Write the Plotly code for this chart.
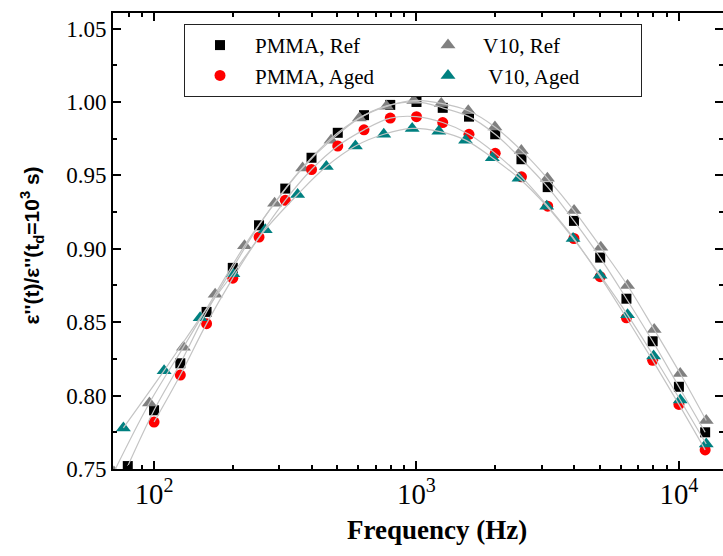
import plotly.graph_objects as go

# ---- data ----
pmma_ref_f = [79.4, 100, 125.9, 158.5, 199.5, 251.2, 316.2, 398.1, 501.2, 631.0, 794.3, 1000,
              1258.9, 1584.9, 1995.3, 2511.9, 3162.3, 3981.1, 5011.9, 6309.6, 7943.3, 10000, 12589.3]
pmma_ref_y = [0.752, 0.790, 0.822, 0.857, 0.887, 0.916, 0.941, 0.962, 0.979, 0.991, 0.998, 1.000,
              0.996, 0.990, 0.978, 0.961, 0.942, 0.919, 0.894, 0.866, 0.837, 0.806, 0.775]

pmma_aged_f = [100, 125.9, 158.5, 199.5, 251.2, 316.2, 398.1, 501.2, 631.0, 794.3, 1000,
               1258.9, 1584.9, 1995.3, 2511.9, 3162.3, 3981.1, 5011.9, 6309.6, 7943.3, 10000, 12589.3]
pmma_aged_y = [0.782, 0.814, 0.849, 0.880, 0.908, 0.933, 0.954, 0.970, 0.981, 0.989, 0.990,
               0.986, 0.978, 0.965, 0.949, 0.929, 0.907, 0.881, 0.853, 0.824, 0.794, 0.763]

v10_ref_f = [70.3, 96.0, 129.4, 170.9, 221.1, 287.9, 368.2, 472.5, 605.9, 768.5, 976.6,
             1242.7, 1575, 1990, 2509, 3154, 3985, 5039, 6372, 8050, 10115, 12711]
v10_ref_y = [0.748, 0.795, 0.833, 0.869, 0.902, 0.931, 0.955, 0.974, 0.989, 0.997, 1.001,
             0.999, 0.994, 0.983, 0.967, 0.948, 0.926, 0.901, 0.875, 0.845, 0.815, 0.783]

v10_aged_f = [76.4, 109.2, 149.8, 199.7, 265.3, 352.4, 453.4, 585.1, 750.4, 962.9,
              1216.6, 1538, 1945, 2458, 3135, 3951, 5007, 6372, 8007, 10115, 12711]
v10_aged_y = [0.778, 0.817, 0.853, 0.883, 0.913, 0.937, 0.956, 0.970, 0.978, 0.982,
              0.980, 0.974, 0.962, 0.948, 0.929, 0.907, 0.882, 0.855, 0.827, 0.797, 0.767]

series = [
    ("PMMA, Ref", pmma_ref_f, pmma_ref_y, "square", "#000000", 10),
    ("V10, Ref", v10_ref_f, v10_ref_y, "triangle-up", "#808080", 13),
    ("PMMA, Aged", pmma_aged_f, pmma_aged_y, "circle", "#ff0000", 11),
    ("\u00a0V10, Aged", v10_aged_f, v10_aged_y, "triangle-up", "#008080", 13),
]

fig = go.Figure()
for name, f, y, sym, col, sz in series:
    fig.add_trace(go.Scatter(x=f, y=y, mode="markers", name=name,
                             marker=dict(symbol=sym, color=col, size=sz, line=dict(width=0))))
for name, f, y, sym, col, sz in series:
    fig.add_trace(go.Scatter(x=f, y=y, mode="lines", showlegend=False, hoverinfo="skip",
                             line=dict(color="#c4c4c4", width=1.2, shape="spline", smoothing=1.0)))

serif = "Liberation Serif"
axis_common = dict(showline=True, linecolor="black", linewidth=2, mirror="ticks",
                   ticks="inside", ticklen=8, tickwidth=2, tickcolor="black",
                   showgrid=False, zeroline=False, automargin=False,
                   tickfont=dict(family=serif, size=23, color="black"))

fig.update_xaxes(type="log", range=[1.8435, 4.168], dtick=1, exponentformat="power",
                 minor=dict(ticks="inside", ticklen=4, tickwidth=1.5, tickcolor="black",
                            dtick="D1", showgrid=False),
                 **axis_common)
fig.update_yaxes(range=[0.75, 1.0606], tick0=0.75, dtick=0.05, tickformat=".2f",
                 minor=dict(ticks="inside", ticklen=4, tickwidth=1.5, tickcolor="black",
                            dtick=0.025, showgrid=False),
                 **axis_common)

fig.add_annotation(text="<b>Frequency (Hz)</b>", xref="paper", yref="paper",
                   x=0.531, y=-0.134, xanchor="center", yanchor="middle", showarrow=False,
                   font=dict(family=serif, size=27, color="black"))
fig.add_annotation(text="<b>\u03b5''(t)/\u03b5''(t<sub>d</sub>=10<sup>3</sup> s)</b>",
                   xref="paper", yref="paper", x=-0.133, y=0.49, textangle=-90,
                   xanchor="center", yanchor="middle", showarrow=False,
                   font=dict(family="Liberation Sans", size=21, color="black"))

fig.update_layout(
    template="none",
    width=723, height=556,
    margin=dict(l=113, r=0, t=13, b=87, autoexpand=False),
    paper_bgcolor="white", plot_bgcolor="white",
    font=dict(family=serif, color="black"),
    legend=dict(orientation="h", x=0.1164, y=0.976, xanchor="left", yanchor="top",
                bordercolor="#222222", borderwidth=1, bgcolor="white",
                font=dict(family=serif, size=21, color="black"),
                itemwidth=60,
                entrywidth=153, entrywidthmode="pixels", itemsizing="trace"),
)

fig.write_html("out.html", config={"displayModeBar": False},
               post_script="document.body.style.margin='0';document.body.style.overflow='hidden';")
